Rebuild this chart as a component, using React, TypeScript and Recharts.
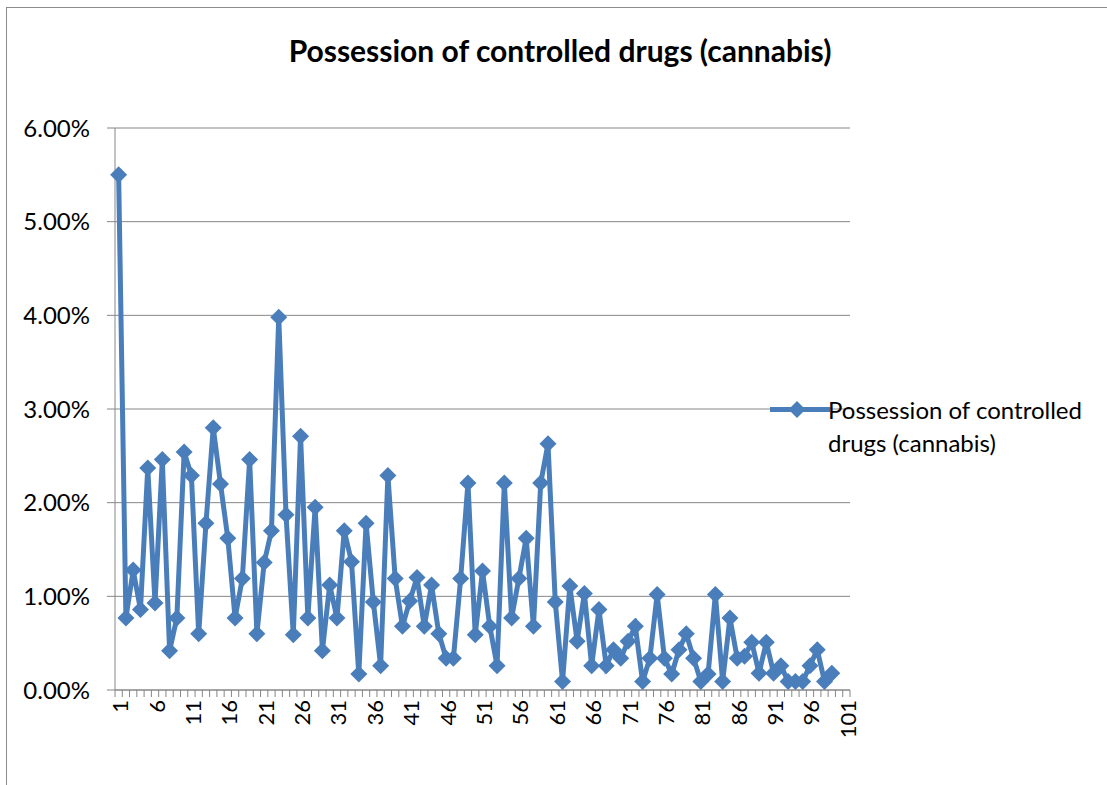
import React from "react";
import { LineChart, Line, XAxis, YAxis, CartesianGrid, Legend } from "recharts";

// category labels 1..101 (excel category axis), data only for the first 99
const categories = Array.from({ length: 101 }, (_, i) => String(i + 1));

const rates = [
  5.5, 0.77, 1.28, 0.86, 2.37, 0.93, 2.46, 0.42, 0.77, 2.54,
  2.29, 0.6, 1.78, 2.8, 2.2, 1.62, 0.77, 1.19, 2.46, 0.6,
  1.36, 1.7, 3.98, 1.87, 0.59, 2.71, 0.77, 1.95, 0.42, 1.12,
  0.77, 1.7, 1.37, 0.17, 1.78, 0.94, 0.26, 2.29, 1.19, 0.68,
  0.95, 1.2, 0.68, 1.12, 0.6, 0.34, 0.34, 1.19, 2.21, 0.59,
  1.27, 0.68, 0.26, 2.21, 0.77, 1.19, 1.62, 0.68, 2.21, 2.63,
  0.94, 0.09, 1.11, 0.52, 1.03, 0.26, 0.86, 0.26, 0.43, 0.34,
  0.52, 0.68, 0.09, 0.34, 1.02, 0.34, 0.17, 0.43, 0.6, 0.34,
  0.09, 0.17, 1.02, 0.09, 0.77, 0.34, 0.36, 0.51, 0.18, 0.51,
  0.18, 0.26, 0.09, 0.09, 0.09, 0.26, 0.43, 0.09, 0.18,
];

const yTicks = [0, 1, 2, 3, 4, 5, 6];

const SERIES = "Possession of controlled drugs (cannabis)";
const BLUE = "#4A7EBB";
const GREY = "#868686";
const FONT = "Lato, 'Open Sans', sans-serif";

const PLOT_W = 735;
const BAND = PLOT_W / categories.length;

const data = categories.map((c, i) => ({
  cat: c,
  value: i < rates.length ? rates[i] : null,
}));

const Diamond = (props: any) => {
  const { cx, cy, value } = props;
  if (value == null || cx == null || cy == null) return null;
  const r = 8.5;
  return (
    <polygon
      points={`${cx},${cy - r} ${cx + r},${cy} ${cx},${cy + r} ${cx - r},${cy}`}
      fill={BLUE}
    />
  );
};

const XTick = (props: any) => {
  const { x, y, payload, index } = props;
  const left = x - BAND / 2;
  const showLabel = index % 5 === 0;
  return (
    <g>
      <line x1={left} x2={left} y1={y} y2={y + 7} stroke={GREY} />
      {index === categories.length - 1 && (
        <line x1={x + BAND / 2} x2={x + BAND / 2} y1={y} y2={y + 7} stroke={GREY} />
      )}
      {showLabel && (
        <text
          x={0}
          y={0}
          transform={`translate(${x + 1},${y + 10}) rotate(-90)`}
          textAnchor="end"
          dominantBaseline="central"
          fontSize={22}
          fontFamily={FONT}
          fill="#000"
        >
          {payload.value}
        </text>
      )}
    </g>
  );
};

const LegendBox = () => (
  <div style={{ display: "flex", alignItems: "flex-start", fontFamily: FONT }}>
    <svg width={62} height={33} style={{ flex: "none" }}>
      <line x1={2} x2={62} y1={16.5} y2={16.5} stroke={BLUE} strokeWidth={5} />
      <polygon points="29,8 37.5,16.5 29,25 20.5,16.5" fill={BLUE} />
    </svg>
    <div style={{ fontSize: 24, lineHeight: "33px", color: "#000", width: 275, marginLeft: -2 }}>
      {SERIES}
    </div>
  </div>
);

export default function App() {
  return (
    <div
      style={{
        position: "absolute",
        left: 0,
        top: 0,
        width: 1107,
        height: 785,
        background: "#fff",
        overflow: "hidden",
        fontFamily: FONT,
      }}
    >
      <div
        style={{
          position: "absolute",
          left: 6,
          top: 7,
          width: 1101,
          height: 778,
          borderLeft: "1px solid #8c8c8c",
          borderTop: "1px solid #8c8c8c",
        }}
      />
      <div
        style={{
          position: "absolute",
          left: 210,
          top: 31,
          width: 700,
          textAlign: "center",
          fontSize: 30,
          fontWeight: 700,
          lineHeight: "38px",
          color: "#000",
        }}
      >
        {SERIES}
      </div>
      <div style={{ position: "absolute", left: 0, top: 0 }}>
        <LineChart
          width={1107}
          height={785}
          data={data}
          margin={{ top: 128, right: 257, bottom: 0, left: 0 }}
        >
          <CartesianGrid vertical={false} stroke={GREY} strokeWidth={1} />
          <XAxis
            dataKey="cat"
            scale="band"
            interval={0}
            height={95}
            tickSize={0}
            tickMargin={0}
            tickLine={false}
            axisLine={{ stroke: GREY }}
            tick={<XTick />}
          />
          <YAxis
            width={115}
            domain={[0, 6]}
            ticks={yTicks}
            tickFormatter={(v: number) => v.toFixed(2) + "%"}
            tickSize={8}
            tickMargin={17}
            axisLine={{ stroke: GREY }}
            tickLine={{ stroke: GREY }}
            tick={{ fontSize: 24, fontFamily: FONT, fill: "#000" }}
          />
          <Legend
            layout="horizontal"
            verticalAlign="middle"
            align="center"
            wrapperStyle={{ left: 768, top: 393, width: 339 }}
            content={<LegendBox />}
          />
          <Line
            type="linear"
            dataKey="value"
            name={SERIES}
            stroke={BLUE}
            strokeWidth={5}
            dot={<Diamond />}
            activeDot={false}
            connectNulls={false}
            isAnimationActive={false}
          />
        </LineChart>
      </div>
    </div>
  );
}
